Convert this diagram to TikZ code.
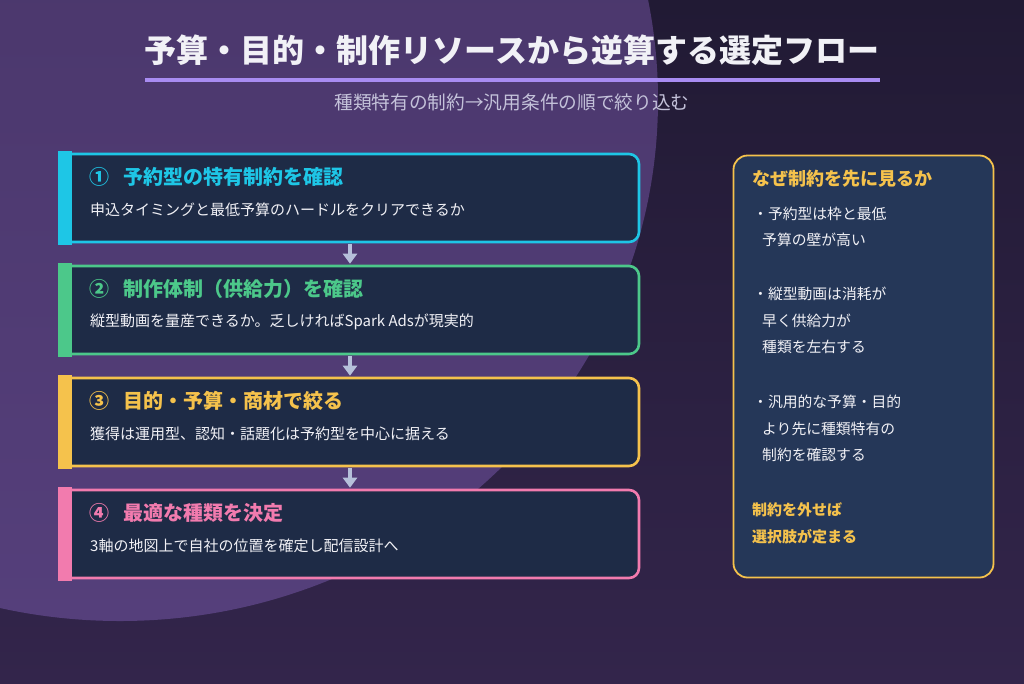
\documentclass[tikz,border=0pt]{standalone}
\usepackage{fontspec}
\setmainfont{Noto Sans CJK JP}
\usetikzlibrary{arrows.meta,calc}
\definecolor{bgtop}{HTML}{211A34}
\definecolor{bgbot}{HTML}{33254B}
\definecolor{ctop}{HTML}{453364}
\definecolor{cbot}{HTML}{553F7B}
\definecolor{boxfill}{HTML}{1E2B46}
\definecolor{sidefill}{HTML}{253758}
\definecolor{cA}{HTML}{1EC6E6}
\definecolor{cB}{HTML}{4CC88A}
\definecolor{cC}{HTML}{F5C24C}
\definecolor{cD}{HTML}{F27BAE}
\definecolor{uline}{HTML}{A88CF2}
\definecolor{subc}{HTML}{C4C2DA}
\definecolor{arrc}{HTML}{B6C0DA}
\definecolor{txt}{HTML}{F1F1F6}
\tikzset{
  stepbox/.style={draw, line width=2.6pt, fill=boxfill, rounded corners=10pt,
    minimum width=578pt, minimum height=88pt, inner sep=0pt},
  steptitle/.style={anchor=west, inner sep=0pt, font=\bfseries\fontsize{20}{22}\selectfont},
  stepdesc/.style={anchor=west, inner sep=0pt, text=txt, font=\fontsize{15}{17}\selectfont},
  sidetxt/.style={anchor=west, inner sep=0pt, text=txt, font=\fontsize{14.8}{17}\selectfont},
  sideyel/.style={anchor=west, inner sep=0pt, text=cC, font=\bfseries\fontsize{15}{17}\selectfont},
  flowarr/.style={draw=arrc, line width=4pt, -{Triangle[width=14pt,length=10pt]}, shorten <=1pt, shorten >=1pt}
}
\begin{document}
\begin{tikzpicture}[x=1pt,y=-1pt]
\useasboundingbox (0,0) rectangle (1024,683);
% background
\shade[top color=bgtop, bottom color=bgbot] (0,0) rectangle (1024,683);
\begin{scope}
\clip (0,0) rectangle (1024,683);
\shade[top color=ctop, bottom color=cbot] (120,100) ellipse [x radius=538, y radius=521];
\end{scope}
% title
\node[inner sep=0pt, text=txt, font=\bfseries\fontsize{32}{36}\selectfont] (title) at (512,50) {予算・目的・制作リソースから逆算する選定フロー};
\coordinate (ulA) at (145,80);
\coordinate (ulB) at (880,80);
\draw[uline, line width=4pt] (ulA) -- (ulB);
\node[inner sep=0pt, text=subc, font=\fontsize{18.7}{21}\selectfont] (sub) at (512,102) {種類特有の制約→汎用条件の順で絞り込む};
% step boxes
\foreach \n/\y/\c in {s1/198/cA, s2/310/cB, s3/422/cC, s4/534/cD}{
  \node[stepbox, draw=\c] (\n) at (350,\y) {};
  \fill[\c] ($(\n.north west)+(-1.3,-1.3)$) rectangle ($(\n.south west)+(12,1.3)$);
}
\node[steptitle, text=cA] (t1) at (89,177) {①\hspace{0.7em}予約型の特有制約を確認};
\node[stepdesc] (d1) at (90,210) {申込タイミングと最低予算のハードルをクリアできるか};
\node[steptitle, text=cB] (t2) at (89,289) {②\hspace{0.7em}制作体制（供給力）を確認};
\node[stepdesc] (d2) at (90,322) {縦型動画を量産できるか。乏しければSpark Adsが現実的};
\node[steptitle, text=cC] (t3) at (89,401) {③\hspace{0.7em}目的・予算・商材で絞る};
\node[stepdesc] (d3) at (90,434) {獲得は運用型、認知・話題化は予約型を中心に据える};
\node[steptitle, text=cD] (t4) at (89,513) {④\hspace{0.7em}最適な種類を決定};
\node[stepdesc] (d4) at (90,546) {3軸の地図上で自社の位置を確定し配信設計へ};
% arrows
\draw[flowarr] (s1.south) -- (s2.north);
\draw[flowarr] (s2.south) -- (s3.north);
\draw[flowarr] (s3.south) -- (s4.north);
% side box
\node[draw=cC, line width=1.8pt, fill=sidefill, rounded corners=14pt, minimum width=260pt, minimum height=422pt, inner sep=0pt] (side) at (863.5,366.5) {};
\node[anchor=west, inner sep=0pt, text=cC, font=\bfseries\fontsize{18}{20}\selectfont] (sidet) at (752,179) {なぜ制約を先に見るか};
\node[sidetxt] (b1) at (753,214) {・予約型は枠と最低};
\node[sidetxt] (b1b) at (762,240) {予算の壁が高い};
\node[sidetxt] (b2) at (753,294) {・縦型動画は消耗が};
\node[sidetxt] (b2b) at (762,321) {早く供給力が};
\node[sidetxt] (b2c) at (762,347) {種類を左右する};
\node[sidetxt] (b3) at (753,402) {・汎用的な予算・目的};
\node[sidetxt] (b3b) at (762,429) {より先に種類特有の};
\node[sidetxt] (b3c) at (762,455) {制約を確認する};
\node[sideyel] (y1) at (752,510) {制約を外せば};
\node[sideyel] (y2) at (752,537) {選択肢が定まる};
\end{tikzpicture}
\end{document}
